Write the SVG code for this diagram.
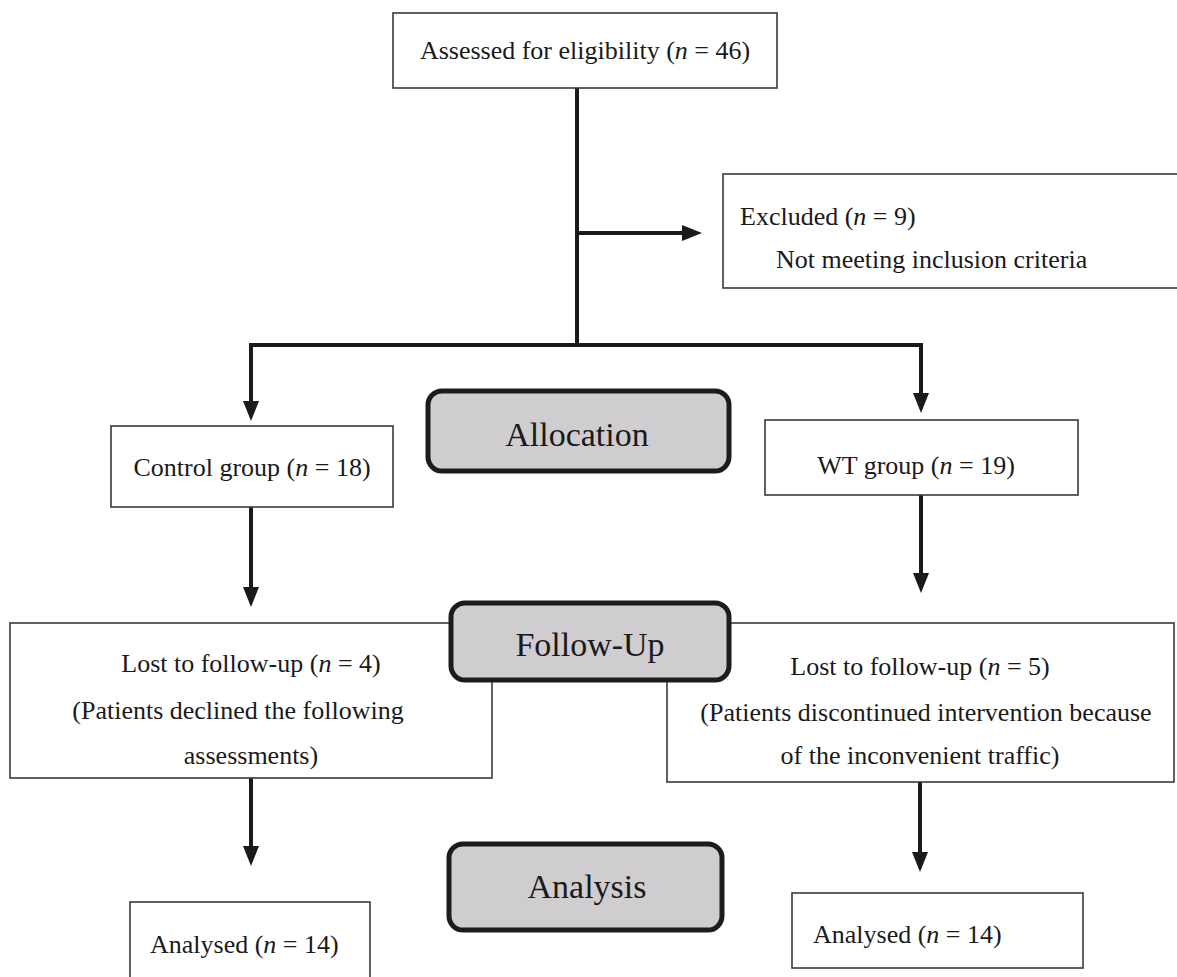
<svg xmlns="http://www.w3.org/2000/svg" width="1177" height="977" viewBox="0 0 1177 977">
<style>
.box{fill:#fff;stroke:#3a3a3a;stroke-width:1.6}
.stage{fill:#d0cdd0;stroke:#1c1c1c;stroke-width:5}
.t{font-family:"Liberation Serif","Times New Roman",serif;font-size:26px;fill:#1a1a1a}
.s{font-family:"Liberation Serif","Times New Roman",serif;font-size:34px;fill:#1a1a1a;text-anchor:middle}
.c{text-anchor:middle}
.conn{fill:none;stroke:#1a1a1a;stroke-width:4}
</style>
<defs>
<marker id="ah" viewBox="0 0 20 16" refX="2" refY="8" markerWidth="20" markerHeight="16" markerUnits="userSpaceOnUse" orient="auto">
<path d="M0,0 L20,8 L0,16 z" fill="#1a1a1a"/>
</marker>
</defs>
<rect width="1177" height="977" fill="#fff"/>
<g id="connectors">
<line class="conn" x1="577" y1="88" x2="577" y2="347"/>
<line class="conn" x1="577" y1="233" x2="684" y2="233" marker-end="url(#ah)"/>
<path class="conn" d="M577,345 H251 V403" marker-end="url(#ah)"/>
<path class="conn" d="M577,345 H921 V395" marker-end="url(#ah)"/>
<line class="conn" x1="251" y1="507" x2="251" y2="589" marker-end="url(#ah)"/>
<line class="conn" x1="921" y1="495" x2="921" y2="575" marker-end="url(#ah)"/>
<line class="conn" x1="251" y1="778" x2="251" y2="848" marker-end="url(#ah)"/>
<line class="conn" x1="920" y1="782" x2="920" y2="854" marker-end="url(#ah)"/>
</g>
<g id="assessed">
<rect class="box" x="393" y="13" width="384" height="75"/>
<text class="t c" x="585" y="59">Assessed for eligibility (<tspan font-style="italic">n</tspan> = 46)</text>
</g>
<g id="excluded">
<rect class="box" x="723" y="174" width="460" height="114"/>
<text class="t" x="740" y="225">Excluded (<tspan font-style="italic">n</tspan> = 9)</text>
<text class="t" x="776" y="268">Not meeting inclusion criteria</text>
</g>
<g id="allocation">
<rect class="stage" x="428" y="391" width="301" height="80" rx="14"/>
<text class="s" x="577" y="446">Allocation</text>
</g>
<g id="control">
<rect class="box" x="111" y="426" width="282" height="81"/>
<text class="t c" x="252" y="476" font-size="27.5">Control group (<tspan font-style="italic">n</tspan> = 18)</text>
</g>
<g id="wt">
<rect class="box" x="765" y="420" width="313" height="75"/>
<text class="t c" x="916" y="474" font-size="28.5">WT group (<tspan font-style="italic">n</tspan> = 19)</text>
</g>
<g id="lost-control">
<rect class="box" x="10" y="623" width="482" height="155"/>
<text class="t c" x="251" y="672">Lost to follow-up (<tspan font-style="italic">n</tspan> = 4)</text>
<text class="t c" x="238" y="719">(Patients declined the following</text>
<text class="t c" x="251" y="764">assessments)</text>
</g>
<g id="lost-wt">
<rect class="box" x="667" y="623" width="507" height="159"/>
<text class="t c" x="920" y="675">Lost to follow-up (<tspan font-style="italic">n</tspan> = 5)</text>
<text class="t c" x="926" y="721">(Patients discontinued intervention because</text>
<text class="t c" x="920" y="764">of the inconvenient traffic)</text>
</g>
<g id="followup">
<rect class="stage" x="451" y="603" width="278" height="77" rx="14"/>
<text class="s" x="590" y="656">Follow-Up</text>
</g>
<g id="analysis">
<rect class="stage" x="449" y="844" width="273" height="86" rx="14"/>
<text class="s" x="587" y="898">Analysis</text>
</g>
<g id="analysed-control">
<rect class="box" x="130" y="902" width="240" height="90"/>
<text class="t" x="150" y="953" font-size="27">Analysed (<tspan font-style="italic">n</tspan> = 14)</text>
</g>
<g id="analysed-wt">
<rect class="box" x="792" y="893" width="291" height="75"/>
<text class="t" x="813" y="943" font-size="27">Analysed (<tspan font-style="italic">n</tspan> = 14)</text>
</g>
</svg>
